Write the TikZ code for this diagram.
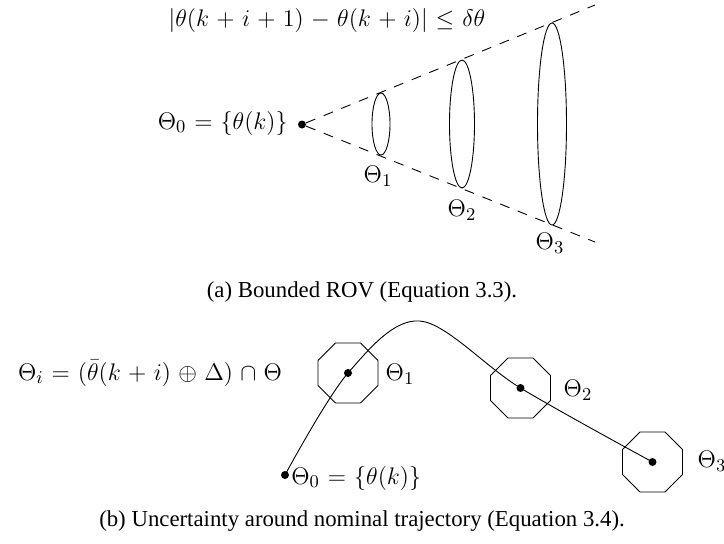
\documentclass[tikz,border=0pt]{standalone}
\usepackage{fontspec}
\setmainfont{Liberation Serif}
\usetikzlibrary{shapes.geometric}
\newcommand\mysetmath{\fontsize{13}{15.6}\selectfont\medmuskip=5.5mu\relax\thickmuskip=6mu\relax}
\tikzset{
  txt/.style={inner sep=0pt, font=\fontsize{11.4}{13.7}\selectfont},
  mth/.style={inner sep=0pt, font=\mysetmath},
  pt/.style={circle, fill=black, inner sep=0pt, minimum size=4pt},
  bound/.style={dash pattern=on 5pt off 4.5pt, line width=0.45pt},
  octa/.style={regular polygon, regular polygon sides=8, draw, line width=0.45pt, inner sep=0pt, minimum size=32.5pt},
  traj/.style={line width=0.45pt},
}
\begin{document}
\begin{tikzpicture}[x=0.5pt,y=-0.5pt]
\useasboundingbox (0,0) rectangle (724,543);
% ---- (a) ----
\node[mth, anchor=base] (ineq) at (327,26) {$|\theta(k+i+1)-\theta(k+i)|\leq\delta\theta$};
\node[pt] (a0) at (302,124.5) {};
\coordinate (au) at (595,5);
\coordinate (ad) at (595,242);
\draw[bound] (a0) -- (au);
\draw[bound] (a0) -- (ad);
\draw[line width=0.45pt] (381,124) ellipse [x radius=9, y radius=31];
\draw[line width=0.45pt] (462,124) ellipse [x radius=12.5, y radius=64];
\draw[line width=0.45pt] (552,124) ellipse [x radius=14.5, y radius=101];
\node[mth, anchor=base east] (la0) at (288,129) {$\Theta_0=\{\theta(k)\}$};
\node[mth] (la1) at (378,176) {$\Theta_1$};
\node[mth] (la2) at (462,210) {$\Theta_2$};
\node[mth] (la3) at (550,243) {$\Theta_3$};
\node[txt, anchor=base] (capa) at (362,297) {(a) Bounded ROV (Equation 3.3).};
% ---- (b) ----
\node[mth, anchor=base] (defn) at (150,380) {$\Theta_i=\big(\bar\theta(k+i)\oplus\Delta\big)\cap\Theta$};
\node[octa] (o1) at (348,373) {};
\node[octa] (o2) at (520.5,388) {};
\node[octa] (o3) at (652.5,462) {};
\node[pt] (b0) at (285,475) {};
\node[pt] (b1) at (348,373) {};
\node[pt] (b2) at (520.5,388) {};
\node[pt] (b3) at (652.5,462) {};
\coordinate (peak) at (420,321);
\draw[traj] plot[smooth, tension=0.55] coordinates {(b0.center) (b1.center) (peak) (b2.center) (b3.center)};
\node[mth] (lb1) at (400,374) {$\Theta_1$};
\node[mth] (lb2) at (578,390) {$\Theta_2$};
\node[mth] (lb3) at (712,461) {$\Theta_3$};
\node[mth, anchor=base west] (lb0) at (291,484) {$\Theta_0=\{\theta(k)\}$};
\node[txt, anchor=base] (capb) at (362,526) {(b) Uncertainty around nominal trajectory (Equation 3.4).};
\end{tikzpicture}
\end{document}
